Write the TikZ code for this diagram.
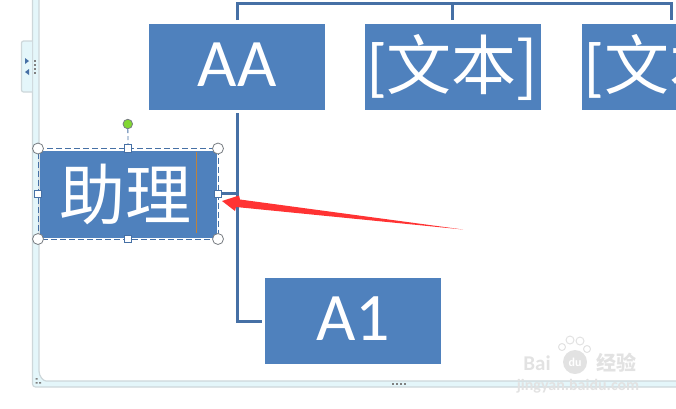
\documentclass[tikz,border=0pt]{standalone}
\usepackage{fontspec}
\setmainfont{Carlito}
\newfontfamily\cjk{Noto Sans CJK SC}
\newcommand\lifted[1]{\raisebox{2.5pt}[\height][\depth]{#1}}
\definecolor{boxblue}{RGB}{79,129,189}
\definecolor{linkblue}{RGB}{70,112,165}
\definecolor{railblue}{RGB}{228,246,250}
\definecolor{railgrey}{RGB}{205,215,218}
\definecolor{handlegrey}{RGB}{120,125,130}
\definecolor{markgrey}{RGB}{226,226,226}
\definecolor{rotategreen}{RGB}{130,215,50}
\definecolor{cursorbrown}{RGB}{190,130,60}
\tikzset{
	orgbox/.style={fill=boxblue,text=white,minimum width=176pt,minimum height=86pt,inner sep=0pt,font=\fontsize{68}{68}\selectfont},
	orglink/.style={draw=linkblue,line width=3pt},
	roundhandle/.style={circle,draw=handlegrey,fill=white,line width=.8pt,minimum size=11pt,inner sep=0pt},
	squarehandle/.style={rectangle,draw=linkblue,fill=white,line width=.6pt,minimum size=7.5pt,inner sep=0pt},
	pawtoe/.style={circle,draw=markgrey,line width=1pt,fill=white,inner sep=0pt},
}
\begin{document}
\begin{tikzpicture}[x=1pt,y=-1pt]
	\useasboundingbox(0,0)rectangle(676,408);
	\clip(0,0)rectangle(676,408);
	% frame of the text pane
	\fill[railblue,draw=railgrey,line width=1.2pt,rounded corners=3pt](32.5,-5)--(32.5,387)--(685,387)--(685,381)--(49,381)
		[sharp corners] to[out=180,in=-90](39,371)--(39,-5)--cycle;
	\fill[railblue,draw=railgrey,line width=1.2pt,rounded corners=2pt](32,41)--(21.5,41)--(21.5,92)--(32,92);
	\fill[linkblue](25,58)--(29,61)--(25,64)--cycle (29,69)--(25,72)--(29,75)--cycle;
	\foreach \y in {60,64,68,72}{
		\fill[gray](34,\y)rectangle+(1.5,1.5);
	}
	\foreach \x in {392,396,400,404}{\fill[gray](\x,383.2)rectangle+(2,1.8);}
	\fill[gray](35.5,378)rectangle+(2,1.6) (35.5,382)rectangle+(2,1.6) (39,382)rectangle+(2,1.6);
	% boxes
	\node[orgbox](aa)at(237,67){\lifted{AA}};
	\node[orgbox,font=\fontsize{65}{65}\selectfont](textone)at(453,67){[\cjk 文本]};
	\node[orgbox,anchor=west,font=\fontsize{65}{65}\selectfont](texttwo)at(582,67){[\cjk 文本]};
	\node[orgbox](aone)at(353,321){\lifted{A1}};
	\node[orgbox,minimum width=177pt,minimum height=87pt,font=\cjk\fontsize{66}{66}\selectfont](helper)at(128.5,194.5){\hspace{-6pt}助理};
	% connectors
	\coordinate(topleft)at(237,3);
	\coordinate(topright)at(671,3);
	\coordinate(topmid)at(452,3);
	\coordinate(stemtop)at(237,113);
	\coordinate(stembottom)at(237,321);
	\coordinate(stemmid)at(237,193.5);
	\draw[orglink](237,20)--(topleft)--(topright)--(671,20);
	\draw[orglink](topmid)--(452,20);
	\draw[orglink](stemtop)--(stembottom)--(262,321);
	\draw[orglink](helper.east|-stemmid)--(stemmid);
	% selection frame of the box
	\coordinate(nw)at(38,148.5);
	\coordinate(ne)at(218,148.5);
	\coordinate(se)at(218,239);
	\coordinate(sw)at(38,239);
	\draw[linkblue,line width=.8pt,dash pattern=on 6pt off 3pt](nw)--(ne)--(se)--(sw)--cycle;
	\draw[cursorbrown,line width=.8pt](196.5,152)--(196.5,233);
	\node[circle,draw=handlegrey,fill=rotategreen,line width=.8pt,minimum size=9.5pt,inner sep=0pt](rotate)at(127.8,124){};
	\node[squarehandle](topsq)at(128,148.5){};
	\draw[linkblue,line width=.8pt,dash pattern=on 4pt off 3pt](rotate)--(topsq);
	\node[squarehandle]at(128,239){};
	\node[squarehandle]at(38,194){};
	\node[squarehandle]at(218,194){};
	\foreach \c in {nw,ne,se,sw}{\node[roundhandle]at(\c){};}
	% red arrow
	\fill[red!80!white](222,201)--(239,195.5)--(240,199.5)--(463,229.5)--(236,207)--(235,211)--cycle;
	% watermark
	\node[text=markgrey,inner sep=0pt,font=\bfseries\fontsize{21}{21}\selectfont](baidu)at(537,363){Bai};
	\node[circle,fill=markgrey,text=white,minimum size=24pt,inner sep=0pt,font=\bfseries\fontsize{12}{12}\selectfont](du)at(575,362){du};
	\foreach \x/\y/\s in {562/347/7,570/340/8,580/341/8,587/349/7}{\node[pawtoe,minimum size=\s pt]at(\x,\y){};}
	\node[text=markgrey,inner sep=0pt,font=\cjk\bfseries\fontsize{20}{20}\selectfont](jingyan)at(616,363){经验};
	\node[text=markgrey,inner sep=0pt,font=\bfseries\fontsize{16}{16}\selectfont](site)at(578,386){jingyan.baidu.com};
\end{tikzpicture}
\end{document}
